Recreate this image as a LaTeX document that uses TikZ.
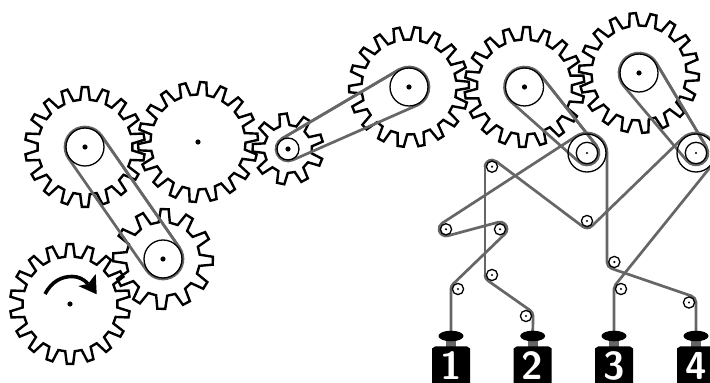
\documentclass[tikz,border=0pt]{standalone}
\usepackage{fontspec}
\setmainfont{DejaVu Sans}
\usetikzlibrary{arrows.meta}
\definecolor{beltgrey}{HTML}{666666}
\tikzset{
  x=1pt,y=1pt,
  gearline/.style={black,line width=2.4pt,line join=miter},
  beltline/.style={beltgrey,line width=2.7pt,line cap=round},
  hub/.style={black,line width=1.3pt},
  idlerwheel/.style={draw=black,fill=white,line width=1.3pt},
  weightbody/.style={fill=black},
  weightlabel/.style={text=white,font=\sffamily\bfseries\fontsize{39}{39}\selectfont,inner sep=0pt,anchor=base}
}
% all positions in reference pixels, y measured from the top
\newcommand\gearwheel[6]{% x,y,R,r,n,phase
  \pgfmathsetmacro\gstep{360/#5}
  \pgfmathsetmacro\gt{0.15*\gstep}
  \pgfmathsetmacro\gr{0.29*\gstep}
  \pgfmathsetmacro\gx{#1}\pgfmathsetmacro\gy{383-#2}
  \pgfmathtruncatemacro\gm{#5-1}
  \draw[gearline] ({\gx+#4*cos(#6-\gr)},{\gy+#4*sin(#6-\gr)})
    \foreach \gi in {0,...,\gm}{
      \pgfextra{\pgfmathsetmacro\ga{#6+\gi*\gstep}}
      -- ({\gx+#4*cos(\ga-\gr)},{\gy+#4*sin(\ga-\gr)})
      -- ({\gx+#3*cos(\ga-\gt)},{\gy+#3*sin(\ga-\gt)})
      -- ({\gx+#3*cos(\ga+\gt)},{\gy+#3*sin(\ga+\gt)})
      -- ({\gx+#4*cos(\ga+\gr)},{\gy+#4*sin(\ga+\gr)})
    } -- cycle;
  \fill (\gx,\gy) circle[radius=2.6];
}
\newcommand\rope[1]{%
  \gdef\havep{0}%
  \foreach \xx/\yy/\aa in {#1}{%
    \pgfmathsetmacro\cy{383-\yy}%
    \ifnum\havep=1
      \pgfmathsetmacro\ddx{\xx-\px}%
      \pgfmathsetmacro\ddy{\cy-\py}%
      \pgfmathsetmacro\rphi{atan2(\ddy,\ddx)+acos((\pa-\aa)/veclen(\ddx,\ddy))}%
      \ifnum\havearc=1
        \pgfmathsetmacro\absa{abs(\pa)}%
        \pgfmathparse{\pa>0?1:0}%
        \ifnum\pgfmathresult>0
          \pgfmathsetmacro\sa{\pphi}%
          \pgfmathsetmacro\ea{\sa-Mod(\sa-\rphi,360)}%
        \else
          \pgfmathsetmacro\sa{\pphi+180}%
          \pgfmathsetmacro\ea{\sa+Mod(\rphi+180-\sa,360)}%
        \fi
        \draw[beltline] ({\px+\absa*cos(\sa)},{\py+\absa*sin(\sa)}) arc[start angle=\sa,end angle=\ea,radius=\absa];
      \fi
      \draw[beltline] ({\px+\pa*cos(\rphi)},{\py+\pa*sin(\rphi)}) -- ({\xx+\aa*cos(\rphi)},{\cy+\aa*sin(\rphi)});
      \xdef\pphi{\rphi}%
      \gdef\havearc{1}%
    \else
      \gdef\havearc{0}%
    \fi
    \xdef\px{\xx}\xdef\py{\cy}\xdef\pa{\aa}%
    \gdef\havep{1}%
  }%
}
\newcommand\pulley[3]{% x,y,r
  \draw[hub] (#1,383-#2) circle[radius=#3];
}
\newcommand\idler[2]{%
  \draw[idlerwheel] (#1,383-#2) circle[radius=5.6];
  \fill (#1,383-#2) circle[radius=1.2];
}
\newcommand\weight[2]{% x,label
  \draw[beltgrey,line width=2.7pt] (#1,383-330) -- (#1,383-336);
  \fill[beltgrey] (#1-5,383-348) rectangle (#1+5,383-340);
  \fill (#1,383-336) ellipse[x radius=12.5,y radius=5.3];
  \fill[weightbody] (#1-19,-2) -- (#1-19,383-348.5) -- (#1-16,383-346.5) -- (#1+16,383-346.5) -- (#1+19,383-348.5) -- (#1+19,-2) -- cycle;
  \node[weightlabel] at (#1,383-380) {#2};
}
\begin{document}
\begin{tikzpicture}
\useasboundingbox (0,0) rectangle (710,383);
\clip (0,0) rectangle (710,383);
\gearwheel{70}{304}{60}{47.5}{18}{90}
\gearwheel{85}{147}{60}{47.5}{18}{90}
\gearwheel{198}{142}{60}{47.5}{18}{85}
\gearwheel{163}{259}{50}{37}{12}{-2}
\gearwheel{288}{149}{35.5}{24}{9}{18}
\gearwheel{409}{87}{60}{47.5}{18}{82}
\gearwheel{524.5}{87}{60}{47.5}{18}{88}
\gearwheel{639}{73}{60}{47.5}{18}{76}
% belts
\rope{85/147/20,163/259/20,85/147/20,163/259/20}
\rope{288/149/12,409/87/20,288/149/12,409/87/20}
\rope{524.5/87/20,587/153/12,524.5/87/20,587/153/12}
\rope{639/73/20,696/153/12,639/73/20,696/153/12}
% ropes
\rope{451/340/0,458/289/7,500/229/-7,446/229/7,587/153/20,614/262/-7,689/302.5/7,696/340/0}
\rope{532.7/340/0,526/316/-7,492/275/7,492/167/7,587/221/-7,696/153/20,621/289/-7,614/340/0}
% hubs
\pulley{85}{147}{19}
\pulley{163}{259}{19}
\pulley{288}{149}{11}
\pulley{409}{87}{19}
\pulley{524.5}{87}{19}
\pulley{639}{73}{19}
\pulley{587}{153}{10.7}
\pulley{587}{153}{19}
\pulley{696}{153}{10.7}
\pulley{696}{153}{19}
\fill (587,383-153) circle[radius=1.2];
\fill (696,383-153) circle[radius=1.2];
% idlers
\idler{492}{166.7}\idler{446}{229.3}\idler{500}{229.3}\idler{492}{275}\idler{458}{289}\idler{526}{316}
\idler{587}{221}\idler{614.3}{262}\idler{621}{289}\idler{689}{302.5}
% weights
\weight{451}{1}
\weight{532.7}{2}
\weight{614}{3}
\weight{696}{4}
% driving arrow
\draw[black,line width=3.6pt] (45,383-294) .. controls (52,383-281) and (62,383-276.5) .. (72,383-276.5) .. controls (78,383-276.5) and (84,383-279) .. (88,383-284);
\fill (95.7,383-274) -- (96.7,383-294.3) -- (78.3,383-286) -- (88,383-284) -- cycle;
\end{tikzpicture}
\end{document}
